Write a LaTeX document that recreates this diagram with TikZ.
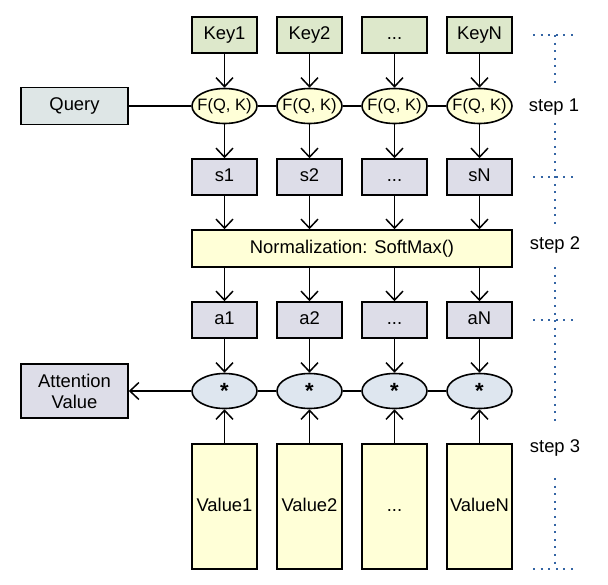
\documentclass[tikz,border=0pt]{standalone}
\usepackage{fontspec}
\setmainfont{Liberation Sans}
\usetikzlibrary{arrows.meta,shapes.geometric}

\definecolor{keygreen}{HTML}{DDE8CB}
\definecolor{querygray}{HTML}{DEE6E6}
\definecolor{scoregray}{HTML}{DDDDE8}
\definecolor{paleyellow}{HTML}{FFFFD7}
\definecolor{starblue}{HTML}{DEE6EF}
\definecolor{guideblue}{HTML}{3465A4}

\tikzset{
    box/.style={draw, line width=1.6pt, minimum width=65pt, minimum height=36pt,
        inner sep=0pt, font=\fontsize{18.4}{21}\selectfont},
    oneline/.style={text height=13.2pt, text depth=3.9pt},
    keybox/.style={box, oneline, fill=keygreen},
    scorebox/.style={box, oneline, fill=scoregray},
    valuebox/.style={box, oneline, fill=paleyellow, minimum height=125pt},
    fbubble/.style={draw, ellipse, line width=1.6pt, minimum width=65pt,
        minimum height=35pt, inner sep=0pt, fill=paleyellow,
        font=\fontsize{16.5}{18}\selectfont},
    starbubble/.style={fbubble, fill=starblue,
        font=\fontsize{22}{24}\selectfont\bfseries},
    arr/.style={line width=1.5pt, -{Straight Barb[length=9pt,width=17pt]}},
    link/.style={line width=1.5pt},
    guide/.style={draw=guideblue, line width=2pt, dash pattern=on 2pt off 5.6pt},
    steplabel/.style={font=\fontsize{18.4}{21}\selectfont},
}

\begin{document}
\begin{tikzpicture}[x=1pt, y=-1pt]

    \useasboundingbox (0,0) rectangle (608,584);

    % keys
    \node[keybox] (k1) at (224.5,35) {Key1};
    \node[keybox] (k2) at (309.5,35) {Key2};
    \node[keybox] (k3) at (394.5,35) {...};
    \node[keybox] (k4) at (479.5,35) {KeyN};

    % score function
    \node[box, oneline, fill=querygray, minimum width=107pt, minimum height=37pt]
        (query) at (74.5,106) {Query};
    \node[fbubble] (f1) at (224.5,106) {\makebox[0pt]{F(Q, K)}};
    \node[fbubble] (f2) at (309.5,106) {\makebox[0pt]{F(Q, K)}};
    \node[fbubble] (f3) at (394.5,106) {\makebox[0pt]{F(Q, K)}};
    \node[fbubble] (f4) at (479.5,106) {\makebox[0pt]{F(Q, K)}};

    \node[scorebox] (s1) at (224.5,177) {s1};
    \node[scorebox] (s2) at (309.5,177) {s2};
    \node[scorebox] (s3) at (394.5,177) {...};
    \node[scorebox] (s4) at (479.5,177) {sN};

    % softmax
    \node[box, oneline, fill=paleyellow, minimum width=320pt, minimum height=37pt]
        (norm) at (352,248.5) {Normalization: SoftMax()};

    \node[scorebox] (a1) at (224.5,320) {a1};
    \node[scorebox] (a2) at (309.5,320) {a2};
    \node[scorebox] (a3) at (394.5,320) {...};
    \node[scorebox] (a4) at (479.5,320) {aN};

    % weighted sum
    \node[box, fill=scoregray, minimum width=107pt, minimum height=54pt,
        align=center] (att) at (74.5,391) {Attention\\Value};
    \node[starbubble] (m1) at (224.5,391) {\vphantom{K}*};
    \node[starbubble] (m2) at (309.5,391) {\vphantom{K}*};
    \node[starbubble] (m3) at (394.5,391) {\vphantom{K}*};
    \node[starbubble] (m4) at (479.5,391) {\vphantom{K}*};

    \node[valuebox] (v1) at (224.5,506.5) {Value1};
    \node[valuebox] (v2) at (309.5,506.5) {Value2};
    \node[valuebox] (v3) at (394.5,506.5) {...};
    \node[valuebox] (v4) at (479.5,506.5) {ValueN};

    % connections
    \draw[arr] (k1) -- (f1);
    \draw[arr] (k2) -- (f2);
    \draw[arr] (k3) -- (f3);
    \draw[arr] (k4) -- (f4);
    \draw[link] (query) -- (f1) -- (f2) -- (f3) -- (f4);
    \draw[arr] (f1) -- (s1);
    \draw[arr] (f2) -- (s2);
    \draw[arr] (f3) -- (s3);
    \draw[arr] (f4) -- (s4);
    \draw[arr] (s1) -- (s1 |- norm.north);
    \draw[arr] (s2) -- (s2 |- norm.north);
    \draw[arr] (s3) -- (s3 |- norm.north);
    \draw[arr] (s4) -- (s4 |- norm.north);
    \draw[arr] (a1 |- norm.south) -- (a1);
    \draw[arr] (a2 |- norm.south) -- (a2);
    \draw[arr] (a3 |- norm.south) -- (a3);
    \draw[arr] (a4 |- norm.south) -- (a4);
    \draw[arr] (a1) -- (m1);
    \draw[arr] (a2) -- (m2);
    \draw[arr] (a3) -- (m3);
    \draw[arr] (a4) -- (m4);
    \draw[arr] (v1) -- (m1);
    \draw[arr] (v2) -- (m2);
    \draw[arr] (v3) -- (m3);
    \draw[arr] (v4) -- (m4);
    \draw[link] (m4) -- (m3) -- (m2) -- (m1);
    \draw[arr] (m1) -- (att);

    % steps
    \node[steplabel] (step1) at (554,107) {step 1};
    \node[steplabel] (step2) at (555,245) {step 2};
    \node[steplabel] (step3) at (555,448) {step 3};

    \draw[guide] (533,35) -- (573,35);
    \draw[guide] (533,177) -- (573,177);
    \draw[guide] (533,320) -- (573,320);
    \draw[guide] (533,569) -- (573,569);
    \draw[guide] (555,35) -- (555,83);
    \draw[guide] (555,123) -- (555,224);
    \draw[guide] (555,267) -- (555,423);
    \draw[guide] (555,478) -- (555,569);

\end{tikzpicture}
\end{document}
